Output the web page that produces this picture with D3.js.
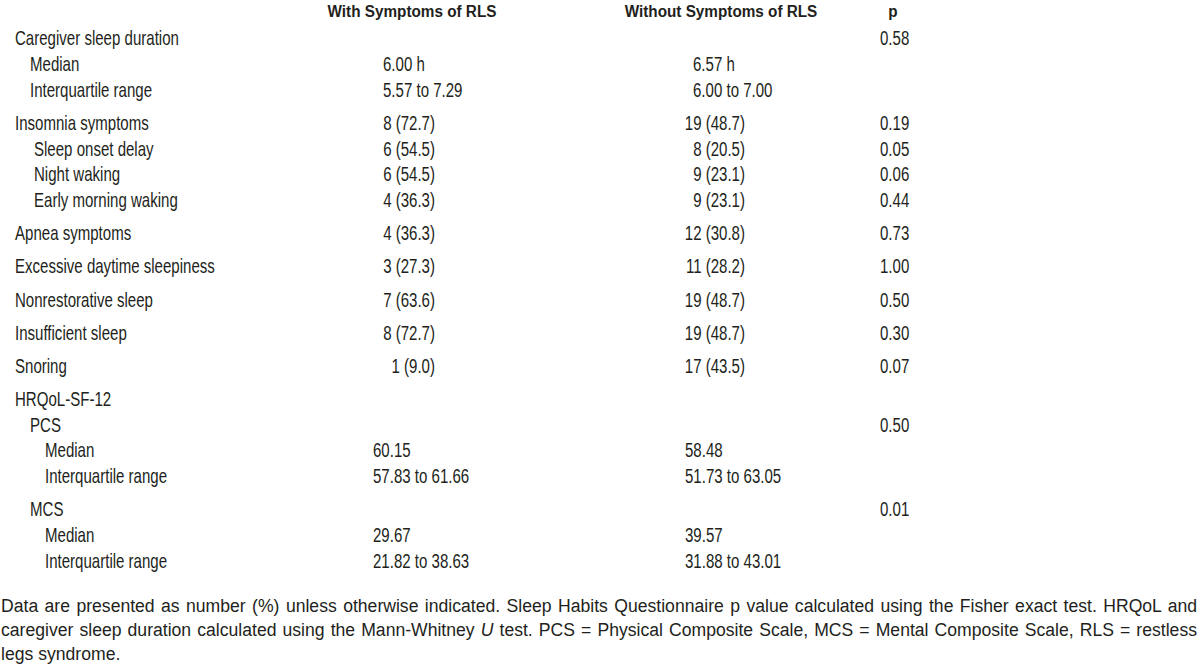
<!DOCTYPE html>
<html>
<head>
<meta charset="utf-8">
<script src="https://cdn.jsdelivr.net/npm/d3@7"></script>
<style>
  html, body { margin: 0; padding: 0; background: #ffffff; }
  svg { display: block; }
</style>
</head>
<body>
<div id="chart"></div>
<script>
// ---------- data ----------
const headers = ["With Symptoms of RLS", "Without Symptoms of RLS", "p"];

const rowLabels = [
  "Caregiver sleep duration", "Median", "Interquartile range",
  "Insomnia symptoms", "Sleep onset delay", "Night waking", "Early morning waking",
  "Apnea symptoms", "Excessive daytime sleepiness", "Nonrestorative sleep",
  "Insufficient sleep", "Snoring",
  "HRQoL-SF-12", "PCS", "Median", "Interquartile range",
  "MCS", "Median", "Interquartile range"
];
const rowLevels = [0, 1, 1, 0, 2, 2, 2, 0, 0, 0, 0, 0, 0, 1, 3, 3, 1, 3, 3];
const rowKinds  = ["dur", "dur", "dur", "n", "n", "n", "n", "n", "n", "n", "n", "n",
                   "score", "score", "score", "score", "score", "score", "score"];
const rowGaps   = ["start", "tight", "tight", "loose", "tight", "tight", "tight",
                   "loose", "loose", "loose", "loose", "loose", "loose",
                   "tight", "tight", "tight", "loose", "tight", "tight"];

const withRLS = ["", "6.00 h", "5.57 to 7.29", "8 (72.7)", "6 (54.5)", "6 (54.5)", "4 (36.3)",
                 "4 (36.3)", "3 (27.3)", "7 (63.6)", "8 (72.7)", "1 (9.0)",
                 "", "", "60.15", "57.83 to 61.66", "", "29.67", "21.82 to 38.63"];
const withoutRLS = ["", "6.57 h", "6.00 to 7.00", "19 (48.7)", "8 (20.5)", "9 (23.1)", "9 (23.1)",
                    "12 (30.8)", "11 (28.2)", "19 (48.7)", "19 (48.7)", "17 (43.5)",
                    "", "", "58.48", "51.73 to 63.05", "", "39.57", "31.88 to 43.01"];
const pValues = ["0.58", "", "", "0.19", "0.05", "0.06", "0.44",
                 "0.73", "1.00", "0.50", "0.30", "0.07",
                 "", "0.50", "", "", "0.01", "", ""];

const footLines = [
  [{t: "Data are presented as number (%) unless otherwise indicated. Sleep Habits Questionnaire p value calculated using the Fisher exact test. HRQoL and"}],
  [{t: "caregiver sleep duration calculated using the Mann-Whitney "}, {t: "U", i: true},
   {t: " test. PCS = Physical Composite Scale, MCS = Mental Composite Scale, RLS = restless"}],
  [{t: "legs syndrome."}]
];

// ---------- layout ----------
const W = 1200, H = 668;
const ink = "#231f20";
const tableFont = "'Liberation Sans Narrow', 'Arial Narrow', 'Liberation Sans', Arial, sans-serif";
const footFont = "'Liberation Sans', Arial, sans-serif";
const fs = 19.5;
const hfs = 17;

const svg = d3.select("#chart").append("svg")
  .attr("width", W).attr("height", H)
  .attr("viewBox", `0 0 ${W} ${H}`);

// measure horizontal condensing so the table font behaves like a condensed face
function measure(txt, size, weight) {
  const p = svg.append("text").attr("font-family", tableFont).attr("font-size", size)
    .attr("font-weight", weight).text(txt);
  const w = p.node().getComputedTextLength();
  p.remove();
  return w;
}
const sx = 164 / measure("Caregiver sleep duration", fs, "normal");
const hsx = 169 / measure("With Symptoms of RLS", hfs, "bold");

// vertical row positions through a linear scale over cumulative slots
const gapUnits = {start: 0, tight: 1, loose: 1.285};
const cum = [];
rowGaps.reduce((acc, g, i) => (cum[i] = acc + gapUnits[g]), 0);
const y = d3.scaleLinear().domain([0, cum[cum.length - 1]]).range([45, 568]);

const indentX = d3.scaleOrdinal().domain([0, 1, 2, 3]).range([15, 30, 34, 45]);

const colX = {
  c1: {n: 435, dur: 383, score: 373},
  c2: {n: 745, dur: 693, score: 685},
  p: 880
};
const headerX = d3.scaleOrdinal().domain(headers).range([412, 721, 893]);

function put(g, x, yy, txt, anchor, bold) {
  g.append("text")
    .attr("transform", `translate(${x},${yy}) scale(${bold ? hsx : sx},1)`)
    .attr("text-anchor", anchor)
    .attr("font-family", tableFont)
    .attr("font-size", bold ? hfs : fs)
    .attr("font-weight", bold ? "bold" : "normal")
    .attr("fill", ink)
    .text(txt);
}

// headers
const gh = svg.append("g");
headers.forEach(h => put(gh, headerX(h), 16.5, h, "middle", true));

// body rows
const gb = svg.append("g");
rowLabels.forEach((lab, i) => {
  const yy = y(cum[i]);
  put(gb, indentX(rowLevels[i]), yy, lab, "start", false);
  const k = rowKinds[i];
  if (withRLS[i]) put(gb, colX.c1[k], yy, withRLS[i], k === "n" ? "end" : "start", false);
  if (withoutRLS[i]) put(gb, colX.c2[k], yy, withoutRLS[i], k === "n" ? "end" : "start", false);
  if (pValues[i]) put(gb, colX.p, yy, pValues[i], "start", false);
});

// footnote (justified lines)
const footY = d3.scaleLinear().domain([0, 2]).range([612, 660]);
const gf = svg.append("g");
footLines.forEach((parts, li) => {
  const t = gf.append("text")
    .attr("x", 1).attr("y", footY(li))
    .attr("font-family", footFont)
    .attr("font-size", 17.6)
    .attr("fill", ink)
    .attr("xml:space", "preserve");
  parts.forEach(p => {
    t.append("tspan").attr("font-style", p.i ? "italic" : "normal").text(p.t);
  });
  if (li < footLines.length - 1) {
    const w = t.node().getComputedTextLength();
    const spaces = parts.map(p => p.t).join("").split(" ").length - 1;
    const extra = (1197 - 1 - w) / spaces;
    t.style("word-spacing", extra + "px");
  }
});
</script>
</body>
</html>
